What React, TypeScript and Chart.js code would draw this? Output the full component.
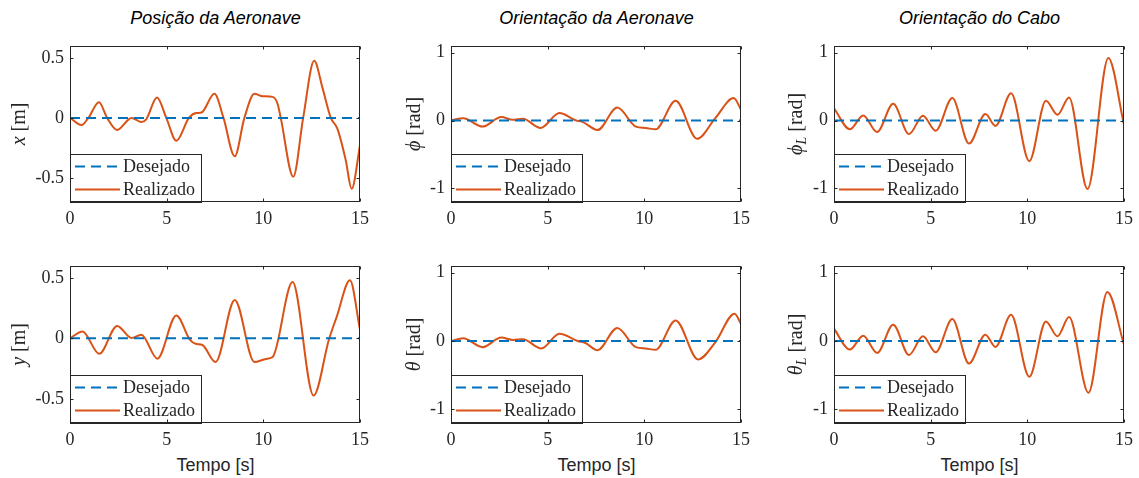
import React, { useEffect, useRef } from 'react';
import { Chart, registerables } from 'chart.js';

Chart.register(...registerables);

// ---------- data ----------
const TICKS_X = [0, 5, 10, 15];
const TICKS_POS = [-0.5, 0, 0.5];
const TICKS_ANG = [-1, 0, 1];

const DESIRED_T = [0, 15];
const DESIRED_V = [0, 0];

const LEGEND_LABELS = ['Desejado', 'Realizado'];
const COL_TITLES = ['Posição da Aeronave', 'Orientação da Aeronave', 'Orientação do Cabo'];
const X_TITLE = 'Tempo [s]';

const POS_X_T = [0, 0.6, 0.95, 1.5, 1.92, 2.44, 3.18, 3.7, 3.95, 4.5, 4.98, 5.5, 6.15, 6.53, 6.8, 7.47, 7.94, 8.52, 9.02, 9.54, 9.97, 10.48, 10.74, 10.9, 11.55, 12.06, 12.63, 13.06, 13.49, 13.83, 14.26, 14.57, 15];
const POS_X_V = [0, -0.06, 0, 0.13, 0, -0.1, 0.0, -0.035, -0.01, 0.17, 0, -0.19, 0, 0.04, 0.045, 0.2, 0, -0.32, 0, 0.2, 0.18, 0.175, 0.115, 0, -0.49, 0, 0.475, 0.25, 0, -0.09, -0.35, -0.59, -0.23];

const POS_Y_T = [0, 0.65, 1.51, 2.44, 3.18, 3.69, 4.52, 5.5, 6.2, 6.5, 6.85, 7.53, 8.52, 9.54, 10.14, 10.48, 11.51, 12.6, 13.4, 13.8, 14.48, 15];
const POS_Y_V = [0, 0.057, -0.128, 0.103, 0.003, 0.03, -0.168, 0.19, -0.01, -0.045, -0.055, -0.196, 0.318, -0.196, -0.17, -0.155, 0.465, -0.473, -0.005, 0.18, 0.48, 0.07];

const PHI_T = [0, 0.63, 1.63, 2.6, 3.2, 3.72, 4.63, 5.61, 6.47, 6.8, 7.58, 8.6, 9.56, 10.07, 10.58, 11.62, 12.73, 13.67, 14.62, 15];
const PHI_V = [0, 0.035, -0.09, 0.05, 0.01, 0.025, -0.11, 0.11, 0.0, -0.02, -0.14, 0.19, -0.09, -0.11, -0.13, 0.29, -0.27, 0.035, 0.33, 0.16];

const THETA_T = [0, 0.63, 1.63, 2.6, 3.2, 3.72, 4.67, 5.61, 6.56, 6.95, 7.58, 8.6, 9.56, 10.07, 10.58, 11.62, 12.78, 13.67, 14.67, 15];
const THETA_V = [0, 0.04, -0.09, 0.05, 0.015, 0.025, -0.11, 0.105, 0.0, -0.03, -0.135, 0.19, -0.09, -0.11, -0.13, 0.3, -0.27, -0.02, 0.4, 0.25];

const PHI_L_T = [0, 0.82, 1.51, 2.23, 3.06, 3.88, 4.6, 5.26, 6.12, 6.98, 7.83, 8.35, 9.16, 10.1, 10.96, 11.56, 12.16, 13.11, 14.19, 15];
const PHI_L_V = [0.18, -0.13, 0.075, -0.17, 0.245, -0.2, 0.07, -0.15, 0.33, -0.34, 0.095, -0.08, 0.4, -0.6, 0.29, 0.085, 0.34, -1.01, 0.92, -0.06];

const THETA_L_T = [0, 0.82, 1.51, 2.23, 3.06, 3.88, 4.6, 5.26, 6.12, 6.98, 7.83, 8.35, 9.16, 10.1, 10.96, 11.56, 12.16, 13.16, 14.14, 15];
const THETA_L_V = [0.18, -0.126, 0.078, -0.175, 0.238, -0.204, 0.068, -0.165, 0.32, -0.33, 0.092, -0.087, 0.383, -0.524, 0.286, 0.068, 0.35, -0.757, 0.718, -0.053];

// ---------- styles ----------
const BLUE = '#0072BD';
const ORANGE = '#D95319';
const AX = '#262626';
const SERIF = '"Liberation Serif", "DejaVu Serif", "Times New Roman", serif';
const SANS = '"Liberation Sans", Arial, Helvetica, sans-serif';

const PAD_T = 16;
const PAD_R = 14;
const X_H = 30;
const Y_W = 70;

type Part = { text: string; italic?: boolean; sub?: boolean };
type Spec = {
  t: number[];
  v: number[];
  min: number;
  max: number;
  ticks: number[];
  box: [number, number, number, number];
  label: Part[];
  labelOffset: number;
};

const COL_L = [70, 451, 834];
const COL_R = [361, 742, 1125];
const ROW_T = [45, 265];
const ROW_B = [202, 423];

const SPECS: Spec[] = [
  { t: POS_X_T, v: POS_X_V, min: -0.7, max: 0.6, ticks: TICKS_POS, box: [COL_L[0], ROW_T[0], COL_R[0], ROW_B[0]], label: [{ text: 'x', italic: true }, { text: ' [m]' }], labelOffset: 50 },
  { t: PHI_T, v: PHI_V, min: -1.2, max: 1.1, ticks: TICKS_ANG, box: [COL_L[1], ROW_T[0], COL_R[1], ROW_B[0]], label: [{ text: '\u03D5', italic: true }, { text: ' [rad]' }], labelOffset: 36 },
  { t: PHI_L_T, v: PHI_L_V, min: -1.2, max: 1.1, ticks: TICKS_ANG, box: [COL_L[2], ROW_T[0], COL_R[2], ROW_B[0]], label: [{ text: '\u03D5', italic: true }, { text: 'L', italic: true, sub: true }, { text: ' [rad]' }], labelOffset: 37 },
  { t: POS_Y_T, v: POS_Y_V, min: -0.7, max: 0.6, ticks: TICKS_POS, box: [COL_L[0], ROW_T[1], COL_R[0], ROW_B[1]], label: [{ text: 'y', italic: true }, { text: ' [m]' }], labelOffset: 50 },
  { t: THETA_T, v: THETA_V, min: -1.2, max: 1.1, ticks: TICKS_ANG, box: [COL_L[1], ROW_T[1], COL_R[1], ROW_B[1]], label: [{ text: '\u03B8', italic: true }, { text: ' [rad]' }], labelOffset: 36 },
  { t: THETA_L_T, v: THETA_L_V, min: -1.2, max: 1.1, ticks: TICKS_ANG, box: [COL_L[2], ROW_T[1], COL_R[2], ROW_B[1]], label: [{ text: '\u03B8', italic: true }, { text: 'L', italic: true, sub: true }, { text: ' [rad]' }], labelOffset: 37 },
];

function makeFramePlugin(spec: Spec) {
  return {
    id: 'frame',
    afterDatasetsDraw(chart: any) {
      const ctx: CanvasRenderingContext2D = chart.ctx;
      const ca = chart.chartArea;
      const xs = chart.scales.x;
      const ys = chart.scales.y;
      ctx.save();

      // legend
      const lw = 131;
      const lh = 48;
      const lx = ca.left;
      const ly = ca.bottom - lh;
      ctx.fillStyle = '#ffffff';
      ctx.fillRect(lx, ly, lw, lh);
      ctx.strokeStyle = AX;
      ctx.lineWidth = 1;
      ctx.strokeRect(Math.round(lx) + 0.5, Math.round(ly) + 0.5, lw, lh);
      const rows = [
        { y: ly + 12.5, color: BLUE, dash: [10, 6] },
        { y: ly + 35.5, color: ORANGE, dash: [] as number[] },
      ];
      ctx.font = `18px ${SERIF}`;
      ctx.textBaseline = 'middle';
      ctx.textAlign = 'left';
      rows.forEach((r, i) => {
        ctx.beginPath();
        ctx.setLineDash(r.dash);
        ctx.strokeStyle = r.color;
        ctx.lineWidth = 2;
        ctx.moveTo(lx + 5, r.y);
        ctx.lineTo(lx + 50, r.y);
        ctx.stroke();
        ctx.setLineDash([]);
        ctx.fillStyle = AX;
        ctx.fillText(LEGEND_LABELS[i], lx + 53, r.y + 1);
      });

      // frame
      ctx.strokeStyle = AX;
      ctx.lineWidth = 1;
      const L = Math.round(ca.left) + 0.5;
      const R = Math.round(ca.right) - 0.5;
      const T = Math.round(ca.top) + 0.5;
      const B = Math.round(ca.bottom) - 0.5;
      ctx.strokeRect(L, T, R - L, B - T);

      // inward ticks
      const tl = 3;
      ctx.beginPath();
      spec.ticks.forEach((v) => {
        const y = Math.round(ys.getPixelForValue(v)) + 0.5;
        ctx.moveTo(L, y);
        ctx.lineTo(L + tl, y);
        ctx.moveTo(R, y);
        ctx.lineTo(R - tl, y);
      });
      TICKS_X.forEach((v) => {
        const x = Math.round(xs.getPixelForValue(v)) + 0.5;
        ctx.moveTo(x, B);
        ctx.lineTo(x, B - tl);
        ctx.moveTo(x, T);
        ctx.lineTo(x, T + tl);
      });
      ctx.stroke();

      // y label
      const size = 20;
      const subSize = 14;
      const fontFor = (p: Part) => `${p.italic ? 'italic ' : ''}${p.sub ? subSize : size}px ${SERIF}`;
      let total = 0;
      const widths = spec.label.map((p) => {
        ctx.font = fontFor(p);
        const w = ctx.measureText(p.text).width;
        total += w;
        return w;
      });
      const cx = ca.left - spec.labelOffset;
      const cy = (ca.top + ca.bottom) / 2;
      ctx.translate(cx, cy);
      ctx.rotate(-Math.PI / 2);
      ctx.fillStyle = AX;
      ctx.textBaseline = 'middle';
      ctx.textAlign = 'left';
      let x = -total / 2;
      spec.label.forEach((p, i) => {
        ctx.font = fontFor(p);
        ctx.fillText(p.text, x, p.sub ? 5 : 0);
        x += widths[i];
      });
      ctx.restore();
    },
  };
}

function Panel({ spec }: { spec: Spec }) {
  const ref = useRef<HTMLCanvasElement>(null);
  const [l, t, r, b] = spec.box;
  const w = Y_W + (r - l) + PAD_R;
  const h = PAD_T + (b - t) + X_H;

  useEffect(() => {
    const canvas = ref.current;
    if (!canvas) return;
    const tickFont = { family: SERIF, size: 18 };
    const chart = new Chart(canvas, {
      type: 'line',
      data: {
        datasets: [
          {
            label: LEGEND_LABELS[0],
            data: DESIRED_T.map((tt, i) => ({ x: tt, y: DESIRED_V[i] })),
            borderColor: BLUE,
            borderWidth: 2,
            borderDash: [10, 6],
            pointRadius: 0,
            fill: false,
          },
          {
            label: LEGEND_LABELS[1],
            data: spec.t.map((tt, i) => ({ x: tt, y: spec.v[i] })),
            borderColor: ORANGE,
            borderWidth: 2,
            pointRadius: 0,
            fill: false,
            cubicInterpolationMode: 'monotone',
          },
        ],
      },
      options: {
        animation: false,
        responsive: false,
        maintainAspectRatio: false,
        devicePixelRatio: 1,
        events: [],
        layout: { padding: { left: 0, top: PAD_T, right: PAD_R, bottom: 0 } },
        plugins: { legend: { display: false }, tooltip: { enabled: false }, title: { display: false } },
        scales: {
          x: {
            type: 'linear',
            min: 0,
            max: 15,
            grid: { display: false, drawTicks: false },
            border: { display: false },
            ticks: { font: tickFont, color: AX, padding: 6, maxRotation: 0, autoSkip: false, callback: (v: any) => String(v) },
            afterBuildTicks: (s: any) => {
              s.ticks = TICKS_X.map((v) => ({ value: v }));
            },
            afterFit: (s: any) => {
              s.height = X_H;
            },
          },
          y: {
            type: 'linear',
            min: spec.min,
            max: spec.max,
            grid: { display: false, drawTicks: false },
            border: { display: false },
            ticks: { font: tickFont, color: AX, padding: 6, autoSkip: false, callback: (v: any) => String(v) },
            afterBuildTicks: (s: any) => {
              s.ticks = spec.ticks.map((v) => ({ value: v }));
            },
            afterFit: (s: any) => {
              s.width = Y_W;
            },
          },
        },
      } as any,
      plugins: [makeFramePlugin(spec)],
    });
    return () => chart.destroy();
  }, []);

  return (
    <canvas
      ref={ref}
      width={w}
      height={h}
      style={{ position: 'absolute', left: l - Y_W, top: t - PAD_T, width: w, height: h }}
    />
  );
}

export default function App() {
  return (
    <div style={{ position: 'absolute', left: 0, top: 0, width: 1139, height: 478, background: '#fff', overflow: 'hidden' }}>
      {COL_TITLES.map((title, i) => (
        <div
          key={'t' + i}
          style={{
            position: 'absolute',
            left: (COL_L[i] + COL_R[i]) / 2 - 150,
            width: 300,
            top: 8,
            lineHeight: '20px',
            textAlign: 'center',
            fontFamily: SANS,
            fontStyle: 'italic',
            fontSize: 18,
            color: '#000',
          }}
        >
          {title}
        </div>
      ))}
      {COL_TITLES.map((_, i) => (
        <div
          key={'x' + i}
          style={{
            position: 'absolute',
            left: (COL_L[i] + COL_R[i]) / 2 - 150,
            width: 300,
            top: 455,
            lineHeight: '20px',
            textAlign: 'center',
            fontFamily: SANS,
            fontSize: 18,
            color: AX,
          }}
        >
          {X_TITLE}
        </div>
      ))}
      {SPECS.map((s, i) => (
        <Panel key={i} spec={s} />
      ))}
    </div>
  );
}
